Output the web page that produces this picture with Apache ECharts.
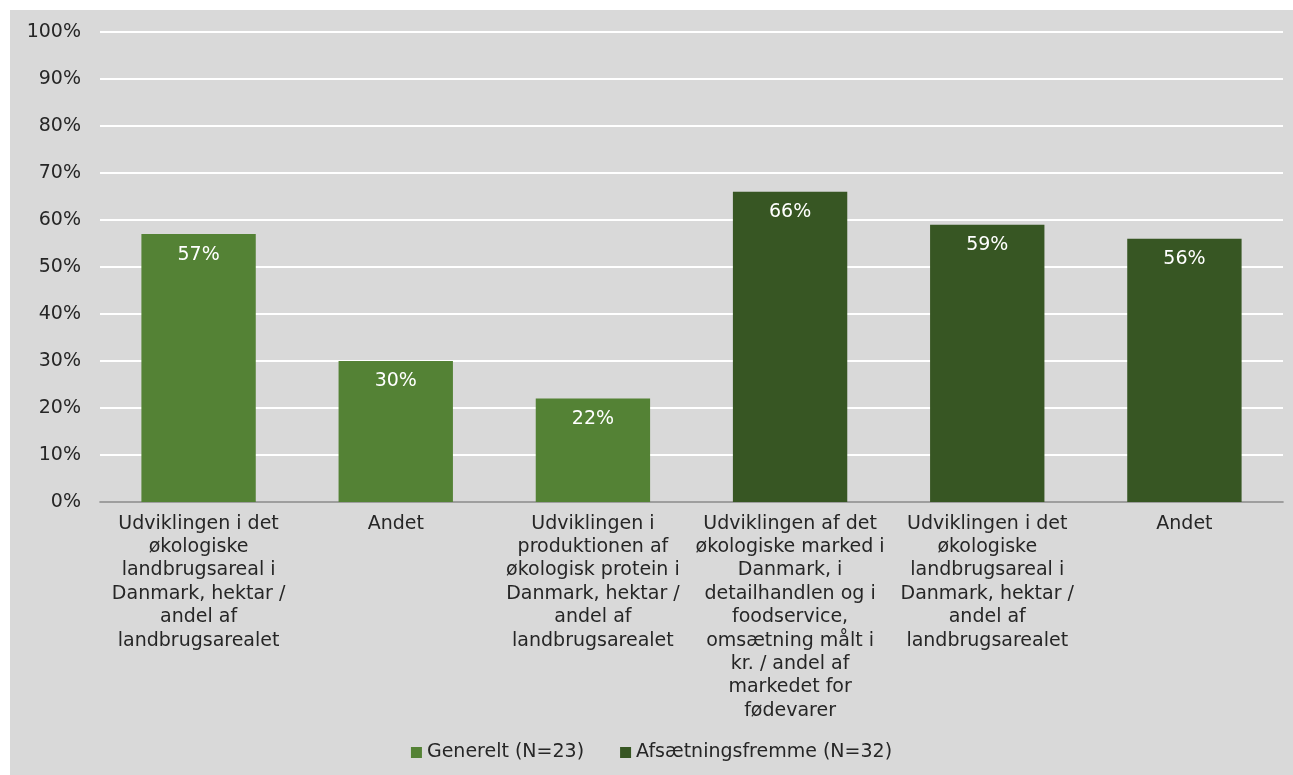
<!DOCTYPE html>
<html>
<head>
<meta charset="utf-8">
<script src="https://cdn.jsdelivr.net/npm/echarts@6/dist/echarts.min.js"></script>
<style>
html,body{margin:0;padding:0;background:#ffffff;}
#c{position:absolute;left:10px;top:10px;width:1283px;height:765px;background:#d9d9d9;}
</style>
</head>
<body>
<div id="c"></div>
<script>
const categories = [
  "Udviklingen i det\nøkologiske\nlandbrugsareal i\nDanmark, hektar /\nandel af\nlandbrugsarealet",
  "Andet",
  "Udviklingen i\nproduktionen af\nøkologisk protein i\nDanmark, hektar /\nandel af\nlandbrugsarealet",
  "Udviklingen af det\nøkologiske marked i\nDanmark, i\ndetailhandlen og i\nfoodservice,\nomsætning målt i\nkr. / andel af\nmarkedet for\nfødevarer",
  "Udviklingen i det\nøkologiske\nlandbrugsareal i\nDanmark, hektar /\nandel af\nlandbrugsarealet",
  "Andet"
];
const seriesNames = ["Generelt (N=23)", "Afsætningsfremme (N=32)"];
const generelt = [57, 30, 22, null, null, null];
const afsaetning = [null, null, null, 66, 59, 56];
const yTicks = [0,10,20,30,40,50,60,70,80,90,100];

const font = "DejaVu Sans";
const fs = 19;
const chart = echarts.init(document.getElementById('c'), null, {renderer:'canvas'});
const labelCfg = {show:true, position:'insideTop', distance:11, color:'#ffffff', fontFamily:font, fontSize:fs, formatter: p => p.value + '%'};
chart.setOption({
  backgroundColor:'#d9d9d9',
  animation:false,
  textStyle:{fontFamily:font},
  grid:{left:90, right:10, top:22, bottom:273, containLabel:false},
  legend:{
    data:seriesNames, bottom:8, left:'center', icon:'rect', itemWidth:11, itemHeight:11, itemGap:36,
    textStyle:{fontFamily:font, fontSize:fs, color:'#262626'}
  },
  xAxis:{
    type:'category', data:categories,
    axisLine:{lineStyle:{color:'#7f7f7f', width:1.5}},
    axisTick:{show:false},
    axisLabel:{interval:0, fontFamily:font, fontSize:fs, color:'#262626', lineHeight:23.4, margin:10}
  },
  yAxis:{
    type:'value', min:0, max:100, interval:10,
    axisLine:{show:false}, axisTick:{show:false},
    splitLine:{lineStyle:{color:'#ffffff', width:2}},
    axisLabel:{formatter: v => v + '%', fontFamily:font, fontSize:fs, color:'#262626', margin:19}
  },
  series:[
    {name:seriesNames[0], type:'bar', stack:'a', data:generelt, barWidth:'58%', itemStyle:{color:'#548235'}, label:labelCfg},
    {name:seriesNames[1], type:'bar', stack:'a', data:afsaetning, barWidth:'58%', itemStyle:{color:'#375623'}, label:labelCfg}
  ]
});
</script>
</body>
</html>
